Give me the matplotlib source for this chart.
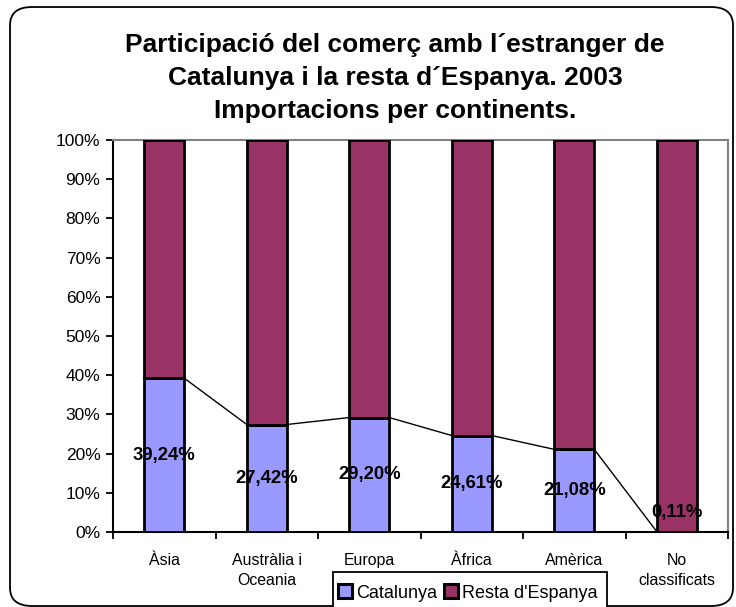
import matplotlib
matplotlib.use("Agg")
import matplotlib.pyplot as plt
from matplotlib.patches import FancyBboxPatch, Patch, Rectangle
import numpy as np

# dades del grafic
categories = ["Àsia", "Austràlia i\nOceania", "Europa", "Àfrica", "Amèrica", "No\nclassificats"]
catalunya = [39.24, 27.42, 29.20, 24.61, 21.08, 0.11]
resta = [100 - v for v in catalunya]
etiquetes = ["39,24%", "27,42%", "29,20%", "24,61%", "21,08%", "0,11%"]
titol = ("Participació del comerç amb l´estranger de\n"
         "Catalunya i la resta d´Espanya. 2003\n"
         "Importacions per continents.")
series = ["Catalunya", "Resta d'Espanya"]

plt.rcParams['font.family'] = ['Liberation Sans', 'DejaVu Sans']

W, H = 736, 607
fig = plt.figure(figsize=(W / 100, H / 100), dpi=100)

# marc arrodonit al voltant de tot
marc = FancyBboxPatch((10 / W, 1 - 606 / H), 723 / W, 599 / H,
                      boxstyle="round,pad=0,rounding_size=0.03",
                      transform=fig.transFigure, fill=False,
                      edgecolor="black", linewidth=1.3)
fig.patches.append(marc)

fig.text(395 / W, 1 - 78 / H, titol, ha="center", va="center",
         fontsize=19, fontweight="bold", linespacing=1.45)

ax = fig.add_axes([113 / W, 1 - 532 / H, 615 / W, 392 / H])
x = np.arange(len(categories))
amplada = 0.39
ax.bar(x, catalunya, amplada, color="#9999FF", edgecolor="black", linewidth=2, zorder=3)
ax.bar(x, resta, amplada, bottom=catalunya, color="#993366", edgecolor="black", linewidth=2, zorder=3)

# linies de serie entre barres
for i in range(len(x) - 1):
    ax.plot([x[i] + amplada / 2, x[i + 1] - amplada / 2], [catalunya[i], catalunya[i + 1]],
            color="black", linewidth=1, zorder=2)

for i, v in enumerate(catalunya):
    ax.text(x[i], max(v / 2, 5), etiquetes[i], ha="center", va="center",
            fontsize=13.3, fontweight="bold", zorder=5)

ax.set_xlim(-0.5, len(x) - 0.5)
ax.set_ylim(0, 100)
ax.set_yticks(np.arange(0, 101, 10))
ax.set_yticklabels(["%d%%" % t for t in range(0, 101, 10)], fontsize=12.5)
ax.tick_params(axis="y", direction="out", length=5, width=1.3, pad=4)

ax.set_xticks(np.arange(-0.5, len(x), 1))
ax.set_xticklabels([])
ax.tick_params(axis="x", which="major", direction="out", length=5, width=1.3)
ax.set_xticks(x, minor=True)
ax.set_xticklabels(categories, minor=True, fontsize=11.4, linespacing=1.45)
ax.tick_params(axis="x", which="minor", length=0, pad=15)

for s in ["left", "bottom"]:
    ax.spines[s].set_color("black")
    ax.spines[s].set_linewidth(1.5)
for s in ["top", "right"]:
    ax.spines[s].set_color("#808080")
    ax.spines[s].set_linewidth(1.5)

# llegenda: caixa que surt per sota de la figura
caixa = Rectangle((333 / W, 1 - 615 / H), 274 / W, 43 / H, transform=fig.transFigure,
                  fill=True, facecolor="white", edgecolor="black", linewidth=1.3, zorder=4)
fig.patches.append(caixa)
handles = [Patch(facecolor="#9999FF", edgecolor="black", linewidth=2.2),
           Patch(facecolor="#993366", edgecolor="black", linewidth=2.2)]
leg = fig.legend(handles, series, loc="center left", bbox_to_anchor=(334 / W, 1 - 593 / H),
                 ncol=2, frameon=False, fontsize=13, handlelength=0.8, handleheight=0.8,
                 handletextpad=0.2, columnspacing=0.4, borderpad=0.2, borderaxespad=0)
leg.set_zorder(5)

fig.savefig("out.png", dpi=100)
